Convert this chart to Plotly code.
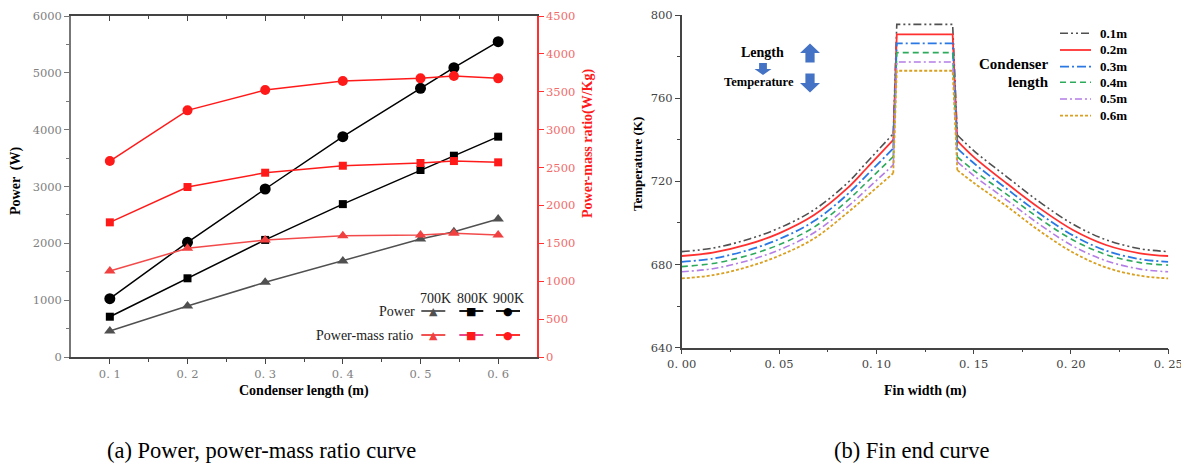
import plotly.graph_objects as go

# ---------------- data: (a) power / power-mass ratio ----------------
cond_len = [0.1, 0.2, 0.3, 0.4, 0.5, 0.543, 0.6]
power_700 = [457, 897, 1314, 1689, 2076, 2205, 2428]
power_800 = [709, 1385, 2060, 2690, 3290, 3542, 3877]
power_900 = [1026, 2018, 2956, 3877, 4728, 5091, 5548]
ratio_700 = [1135, 1434, 1544, 1601, 1610, 1632, 1610]
ratio_800 = [1777, 2243, 2432, 2524, 2560, 2586, 2569]
ratio_900 = [2586, 3255, 3523, 3642, 3677, 3708, 3677]

cond_ticks = [0.1, 0.2, 0.3, 0.4, 0.5, 0.6]
cond_ticktext = ["0. 1", "0. 2", "0. 3", "0. 4", "0. 5", "0. 6"]

# ---------------- data: (b) fin end temperature ----------------
fin_x = [0, 0.016, 0.033, 0.05, 0.068, 0.085, 0.095, 0.1087, 0.1105,
         0.1392, 0.1416, 0.15, 0.167, 0.184, 0.201, 0.218, 0.2355, 0.25]
temp_01 = [686.2, 687.9, 691.8, 697.5, 706.3, 719.1, 729.1, 742.9, 795.5,
           795.5, 742.3, 734.8, 722.2, 710.0, 699.4, 691.9, 687.6, 686.2]
temp_02 = [684.1, 685.7, 689.4, 695.0, 703.8, 716.6, 726.3, 739.9, 790.7,
           790.7, 739.5, 731.8, 719.0, 707.0, 696.6, 689.4, 685.4, 684.1]
temp_03 = [681.3, 682.9, 686.6, 692.2, 700.9, 713.6, 722.9, 735.9, 786.4,
           786.4, 735.9, 728.8, 716.4, 704.4, 694.0, 686.7, 682.6, 681.3]
temp_04 = [679.0, 680.5, 684.1, 689.5, 698.0, 710.6, 719.5, 731.9, 781.9,
           781.9, 731.8, 725.3, 713.7, 702.0, 691.8, 684.8, 680.9, 679.7]
temp_05 = [676.5, 678.0, 681.6, 687.0, 695.3, 707.6, 716.1, 727.9, 777.4,
           777.4, 729.4, 722.8, 711.0, 699.2, 688.9, 681.8, 677.8, 676.5]
temp_06 = [673.3, 674.9, 678.6, 684.2, 692.5, 704.8, 712.8, 723.9, 773.2,
           773.2, 725.4, 719.3, 708.0, 696.1, 685.8, 678.6, 674.6, 673.3]

fin_ticks = [0, 0.05, 0.10, 0.15, 0.20, 0.25]
fin_ticktext = ["0. 00", "0. 05", "0. 10", "0. 15", "0. 20", "0. 25"]
temp_ticks = [640, 680, 720, 760, 800]

series_b = [
    ("0.1m", temp_01, "#505050", "8px,3px,2px,3px,2px,3px", 1.6),
    ("0.2m", temp_02, "#ff3030", "solid", 1.8),
    ("0.3m", temp_03, "#2a78e4", "9px,3px,2px,3px", 1.8),
    ("0.4m", temp_04, "#2eaa5c", "6px,4px", 1.6),
    ("0.5m", temp_05, "#b47ee6", "7px,3px,2px,3px", 1.6),
    ("0.6m", temp_06, "#d9a021", "3px,2px", 1.8),
]
# curved flank / flat top / curved flank  (index ranges into fin_x)
segments = [(0, 8, "spline"), (7, 11, "linear"), (10, 18, "spline")]

# the page body has an 8px margin: lay the figure out so that it lands
# at the same window pixels as the reference
OFF = 8
W, H = 1189 - OFF, 466 - OFF


def px(x):
    return (x - OFF) / W


def py(y):
    return 1 - (y - OFF) / H


fig = go.Figure()

# ---- (a) traces ----
fig.add_trace(go.Scatter(x=cond_len, y=ratio_700, yaxis="y2", mode="lines+markers",
                         line=dict(color="#f24a4a", width=1.5),
                         marker=dict(symbol="triangle-up", size=10, color="#f04040")))
fig.add_trace(go.Scatter(x=cond_len, y=ratio_800, yaxis="y2", mode="lines+markers",
                         line=dict(color="#ff1a1a", width=1.5),
                         marker=dict(symbol="square", size=8, color="#ff1a1a")))
fig.add_trace(go.Scatter(x=cond_len, y=ratio_900, yaxis="y2", mode="lines+markers",
                         line=dict(color="#ff1a1a", width=1.5),
                         marker=dict(symbol="circle", size=10, color="#ff1a1a")))
fig.add_trace(go.Scatter(x=cond_len, y=power_700, mode="lines+markers",
                         line=dict(color="#505050", width=1.5),
                         marker=dict(symbol="triangle-up", size=10, color="#505050")))
fig.add_trace(go.Scatter(x=cond_len, y=power_800, mode="lines+markers",
                         line=dict(color="#000000", width=1.5),
                         marker=dict(symbol="square", size=8, color="#000000")))
fig.add_trace(go.Scatter(x=cond_len, y=power_900, mode="lines+markers",
                         line=dict(color="#000000", width=1.5),
                         marker=dict(symbol="circle", size=11, color="#000000")))
# empty trace so the mirrored top axis is drawn
fig.add_trace(go.Scatter(x=[None], y=[None], xaxis="x3", yaxis="y",
                         mode="lines", hoverinfo="skip"))

# ---- (b) traces ----
for name, temps, color, dash, width in series_b:
    for i0, i1, shape in segments:
        fig.add_trace(go.Scatter(x=fin_x[i0:i1], y=temps[i0:i1], xaxis="x2", yaxis="y3",
                                 mode="lines", name=name,
                                 line=dict(color=color, dash=dash, width=width,
                                           shape=shape, smoothing=1.0)))

tick_font_a = dict(family="DejaVu Serif", size=11.5, color="#808080")
tick_font_b = dict(family="DejaVu Serif", size=11.5, color="#444444")

fig.update_layout(
    width=W, height=H,
    margin=dict(l=0, r=0, t=0, b=0, autoexpand=False),
    paper_bgcolor="white", plot_bgcolor="white",
    showlegend=False,
    xaxis=dict(domain=[px(71), px(537)], anchor="y", range=[0.05, 0.65],
               tickmode="array", tickvals=cond_ticks, ticktext=cond_ticktext,
               ticks="outside", ticklen=5, tickwidth=1.2, tickcolor="#444",
               minor=dict(tickmode="array", tickvals=[0.15, 0.25, 0.35, 0.45, 0.55],
                          ticks="outside", ticklen=3, tickcolor="#444"),
               showline=True, linecolor="#444", linewidth=1.5,
               showgrid=False, zeroline=False, tickfont=tick_font_a),
    xaxis3=dict(overlaying="x", side="top", anchor="y", range=[0.05, 0.65],
                tickmode="array", tickvals=cond_ticks, showticklabels=False,
                ticks="inside", ticklen=5, tickwidth=1.2, tickcolor="#444",
                minor=dict(tickmode="array", tickvals=[0.15, 0.25, 0.35, 0.45, 0.55],
                           ticks="inside", ticklen=3, tickcolor="#444"),
                showline=True, linecolor="#444", linewidth=1.5,
                showgrid=False, zeroline=False),
    yaxis=dict(domain=[py(357), py(16)], anchor="x", range=[0, 6000],
               tickmode="linear", tick0=0, dtick=1000,
               ticks="outside", ticklen=5, tickwidth=1.2, tickcolor="#777",
               minor=dict(tick0=500, dtick=1000, ticks="outside", ticklen=3, tickcolor="#777"),
               showline=True, linecolor="#777", linewidth=1.5,
               showgrid=False, zeroline=False, tickfont=tick_font_a),
    yaxis2=dict(overlaying="y", side="right", anchor="x", range=[0, 4500],
                tickmode="linear", tick0=0, dtick=500,
                ticks="outside", ticklen=5, tickwidth=1.2, tickcolor="#ff3030",
                showline=True, linecolor="#ff3030", linewidth=1.5,
                showgrid=False, zeroline=False,
                tickfont=dict(family="DejaVu Serif", size=11.5, color="#f26a6a")),
    xaxis2=dict(domain=[px(681.7), px(1168.3)], anchor="y3", range=[0, 0.25],
                tickmode="array", tickvals=fin_ticks, ticktext=fin_ticktext,
                ticks="outside", ticklen=5, tickwidth=1.2, tickcolor="#444",
                minor=dict(tickmode="array", tickvals=[0.025, 0.075, 0.125, 0.175, 0.225],
                           ticks="outside", ticklen=3, tickcolor="#444"),
                showline=True, linecolor="#444", linewidth=1.5,
                showgrid=False, zeroline=False, tickfont=tick_font_b),
    yaxis3=dict(domain=[py(347.7), py(15)], anchor="x2", range=[640, 800],
                tickmode="array", tickvals=temp_ticks,
                ticks="outside", ticklen=5, tickwidth=1.2, tickcolor="#444",
                minor=dict(tickmode="array", tickvals=[660, 700, 740, 780],
                           ticks="outside", ticklen=3, tickcolor="#444"),
                showline=True, linecolor="#444", linewidth=1.5,
                showgrid=False, zeroline=False, tickfont=tick_font_b),
)

annotations = []
shapes = []


def ann(text, x, y, size, color="#000", family="Liberation Serif", xanchor="center",
        angle=0):
    annotations.append(dict(text=text, x=px(x), y=py(y), xref="paper", yref="paper",
                            showarrow=False, xanchor=xanchor, yanchor="middle",
                            textangle=angle,
                            font=dict(family=family, size=size, color=color)))


def block_arrow(x, y, w, h, up):
    """Blue block arrow drawn as a pixel-sized path anchored at window pixel (x, y)."""
    s = 1 if up else -1
    hw, sw = w / 2, w * 0.23
    head = h * 0.5
    pts = [(-hw, s * (h / 2 - head)), (0, s * h / 2), (hw, s * (h / 2 - head)),
           (sw, s * (h / 2 - head)), (sw, -s * h / 2), (-sw, -s * h / 2),
           (-sw, s * (h / 2 - head))]
    path = "M " + " L ".join(f"{a:.1f},{b:.1f}" for a, b in pts) + " Z"
    shapes.append(dict(type="path", xref="paper", yref="paper",
                       xsizemode="pixel", ysizemode="pixel",
                       xanchor=px(x), yanchor=py(y), path=path,
                       fillcolor="#4472c4", line=dict(width=0)))


# axis titles
ann("<b>Power  (W)</b>", 16, 181, 14, angle=-90)
ann("<b>Power-mass ratio(W/Kg)</b>", 588, 144, 14, color="#ff1a1a", angle=-90)
ann("<b>Condenser length (m)</b>", 304, 391, 14)
ann("<b>Temperature (K)</b>", 637, 164, 13, angle=-90)
ann("<b>Fin width (m)</b>", 925, 391, 14)

# captions
ann("(a) Power, power-mass ratio curve", 261, 450, 22.5)
ann("(b) Fin end curve", 912, 450, 22.5)

# (a) custom legend
for label, xc in (("700K", 435), ("800K", 472.7), ("900K", 508.3)):
    ann(label, xc, 298, 14, color="#222")
ann("Power", 417, 311, 14, color="#222", xanchor="right")
ann("Power-mass ratio", 415, 335, 14, color="#222", xanchor="right")

legend_rows = [
    (311, [("#505050", "#505050", "▲"), ("#000", "#000", "■"), ("#000", "#000", "●")]),
    (335, [("#f04040", "#f04040", "▲"), ("#e8307a", "#ff1a1a", "■"), ("#ff1a1a", "#ff1a1a", "●")]),
]
centers = [433.3, 471.3, 508]
for yrow, items in legend_rows:
    for (lcol, mcol, glyph), xc in zip(items, centers):
        shapes.append(dict(type="line", xref="paper", yref="paper",
                           x0=px(xc - 12), x1=px(xc + 12), y0=py(yrow), y1=py(yrow),
                           line=dict(color=lcol, width=1.8)))
        ann(glyph, xc, yrow, 11, color=mcol, family="DejaVu Sans")

# (b) arrows / notes
ann("<b>Length</b>", 763, 53, 14)
ann("<b>Temperature</b>", 759, 82, 12.5)
block_arrow(810, 53, 20, 19, True)
block_arrow(763, 69, 17, 12, False)
block_arrow(810, 83, 20, 19, False)

# (b) custom legend
ann("<b>Condenser</b>", 1051, 64, 15, xanchor="right")
ann("<b>length</b>", 1051, 82, 15, xanchor="right")
rows_y = [33.3, 50, 66.7, 82.3, 99, 115.7]
for (name, temps, color, dash, width), yrow in zip(series_b, rows_y):
    shapes.append(dict(type="line", xref="paper", yref="paper",
                       x0=px(1060), x1=px(1091), y0=py(yrow), y1=py(yrow),
                       line=dict(color=color, dash=dash, width=width)))
    ann("<b>" + name + "</b>", 1098, yrow, 13, xanchor="left")

fig.update_layout(annotations=annotations, shapes=shapes)

fig.write_html("out.html")
